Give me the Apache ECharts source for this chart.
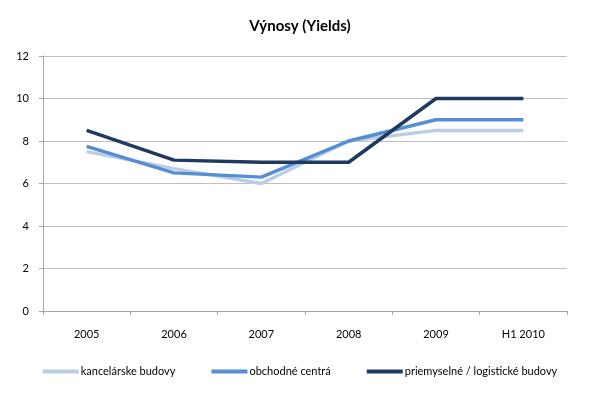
<!DOCTYPE html>
<html><head><meta charset="utf-8">
<script src="https://cdn.jsdelivr.net/npm/echarts@6/dist/echarts.min.js"></script>
<style>html,body{margin:0;padding:0;background:#fff}#c{width:600px;height:394px}</style>
</head><body><div id="c"></div>
<script>
const categories = ['2005','2006','2007','2008','2009','H1 2010'];
const kancelarske = [7.5, 6.7, 6.0, 8.0, 8.5, 8.5];
const obchodne = [7.75, 6.5, 6.3, 8.0, 9.0, 9.0];
const priemyselne = [8.5, 7.1, 7.0, 7.0, 10.0, 10.0];
const seriesNames = ['kancelárske budovy','obchodné centrá','priemyselné / logistické budovy'];
const colors = ['#B9CDE5','#558ED5','#1F3A60'];
const font = 'Lato, "Open Sans", sans-serif';
const chart = echarts.init(document.getElementById('c'));
const mk = (name, data, color) => ({
  name, type:'line', data, symbol:'none', smooth:false,
  lineStyle:{color, width:3.5}, itemStyle:{color}
});
chart.setOption({
  animation:false,
  title:{text:'Výnosy (Yields)', left:'center', top:14,
    textStyle:{fontFamily:font, fontSize:15, fontWeight:'bold', color:'#000'}},
  grid:{left:43, right:33, top:56, bottom:83},
  legend:{bottom:12, left:'center', itemWidth:36, itemHeight:4, itemGap:36,
    icon:'rect',
    textStyle:{fontFamily:font, fontSize:11, color:'#000', padding:[0,0,0,-3]},
    data:seriesNames},
  xAxis:{type:'category', data:categories, boundaryGap:true,
    axisLine:{lineStyle:{color:'#A6A6A6'}},
    axisTick:{show:true, length:4, lineStyle:{color:'#A6A6A6'}},
    axisLabel:{fontFamily:font, fontSize:11, color:'#000', margin:18}},
  yAxis:{type:'value', min:0, max:12, interval:2,
    axisLine:{show:true, lineStyle:{color:'#A6A6A6'}},
    axisTick:{show:true, length:4, lineStyle:{color:'#A6A6A6'}},
    splitLine:{lineStyle:{color:'#BFBFBF'}},
    axisLabel:{fontFamily:font, fontSize:11, color:'#000', margin:14}},
  series:[
    mk(seriesNames[0], kancelarske, colors[0]),
    mk(seriesNames[1], obchodne, colors[1]),
    mk(seriesNames[2], priemyselne, colors[2])
  ]
});
</script></body></html>
